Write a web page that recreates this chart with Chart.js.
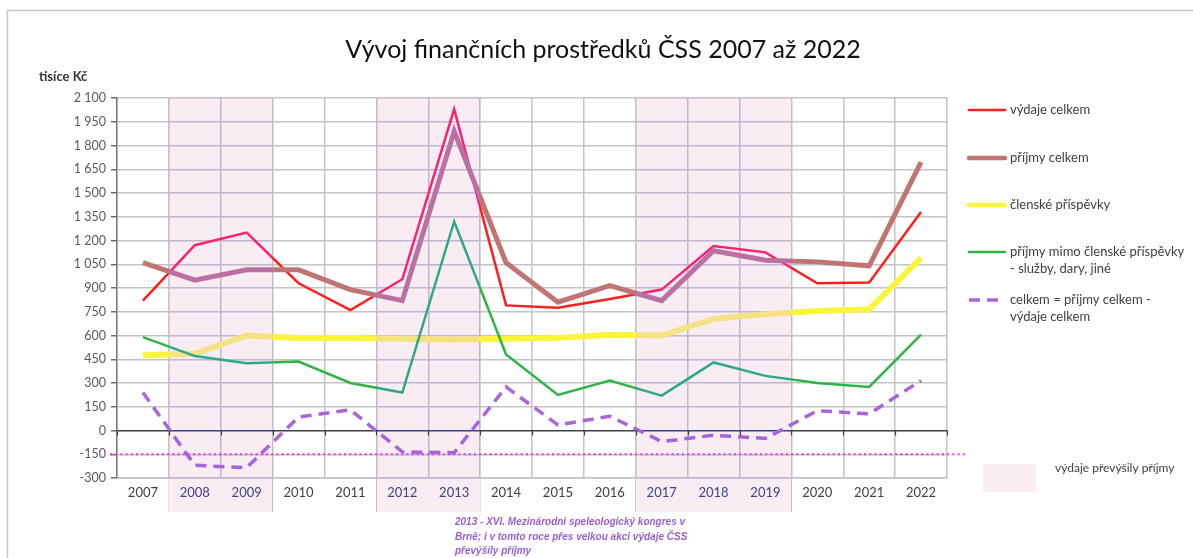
<!DOCTYPE html>
<html>
<head>
<meta charset="utf-8">
<script src="https://cdn.jsdelivr.net/npm/chart.js@4"></script>
<style>
  body { margin: 0; background: #fff; }
  #wrap { width: 1193px; height: 558px; }
</style>
</head>
<body>
<div id="wrap"><canvas id="chart" width="1193" height="558"></canvas></div>
<script>
// data (tisíce Kč)
const years = ['2007', '2008', '2009', '2010', '2011', '2012', '2013', '2014', '2015', '2016', '2017', '2018', '2019', '2020', '2021', '2022'];
const vydajeCelkem = [820, 1170, 1250, 930, 760, 955, 2030, 790, 775, 830, 890, 1165, 1125, 930, 935, 1380];
const prijmyCelkem = [1060, 950, 1015, 1015, 890, 820, 1890, 1060, 810, 915, 820, 1135, 1075, 1065, 1040, 1695];
const clenskePrispevky = [475, 485, 600, 585, 585, 580, 575, 580, 585, 605, 600, 705, 735, 755, 765, 1090];
const prijmyMimo = [590, 470, 425, 435, 300, 240, 1320, 480, 225, 315, 220, 430, 345, 300, 275, 605];
const celkemRozdil = [240, -220, -235, 85, 130, -135, -140, 275, 35, 90, -70, -30, -50, 125, 105, 315];
const limitLine = -150;

const labels = [
    ['výdaje celkem'],
    ['příjmy celkem'],
    ['členské příspěvky'],
    ['příjmy mimo členské příspěvky', '- služby, dary, jiné'],
    ['celkem = příjmy celkem -', 'výdaje celkem']
];

Chart.defaults.font.family = 'Lato, "Open Sans", sans-serif';

function fmt(v) {
    return String(v).replace(/\B(?=(\d{3})+(?!\d))/g, ' ');
}

// pinkish overlay like the patterned boxes in the original
function tint(ctx, x, y, w, h) {
    ctx.save();
    ctx.globalCompositeOperation = 'multiply';
    ctx.fillStyle = 'rgb(249,236,236)';
    ctx.fillRect(x, y, w, h);
    ctx.globalCompositeOperation = 'screen';
    ctx.fillStyle = 'rgb(0,8,95)';
    ctx.fillRect(x, y, w, h);
    ctx.restore();
}

const bandsPlugin = {
    id: 'bands',
    afterDatasetsDraw(chart) {
        const ctx = chart.ctx;
        const area = chart.chartArea;
        const x = chart.scales.x;
        const half = (x.getPixelForValue(1) - x.getPixelForValue(0)) / 2;
        let start = -1;
        for (let i = 0; i <= celkemRozdil.length; i++) {
            const neg = i < celkemRozdil.length && celkemRozdil[i] < 0;
            if (neg && start < 0) start = i;
            if (!neg && start >= 0) {
                const x0 = x.getPixelForValue(start) - half;
                const x1 = x.getPixelForValue(i - 1) + half;
                tint(ctx, x0, area.top, x1 - x0, area.bottom + 34 - area.top);
                start = -1;
            }
        }
    }
};

const extrasPlugin = {
    id: 'extras',
    afterDraw(chart) {
        const ctx = chart.ctx;
        const area = chart.chartArea;
        const x = chart.scales.x;
        const y = chart.scales.y;
        ctx.save();

        // frame
        ctx.strokeStyle = '#c4c4c4';
        ctx.lineWidth = 1.5;
        ctx.beginPath();
        ctx.moveTo(7.5, 558);
        ctx.lineTo(7.5, 10.5);
        ctx.lineTo(1193, 10.5);
        ctx.stroke();

        // title + unit
        ctx.fillStyle = '#111';
        ctx.font = '25px Lato';
        ctx.textAlign = 'center';
        ctx.textBaseline = 'middle';
        ctx.fillText('Vývoj finančních prostředků ČSS 2007 až 2022', 603, 50);
        ctx.fillStyle = '#333';
        ctx.font = 'bold 13px Lato';
        ctx.textAlign = 'left';
        ctx.fillText('tisíce Kč', 39, 77);

        // small ticks on zero line
        const half = (x.getPixelForValue(1) - x.getPixelForValue(0)) / 2;
        const zy = y.getPixelForValue(0);
        ctx.strokeStyle = '#404040';
        ctx.lineWidth = 1.2;
        ctx.beginPath();
        for (let i = 0; i <= years.length; i++) {
            const px = Math.round(x.getPixelForValue(0) - half + i * 2 * half) + 0.5;
            ctx.moveTo(px, zy);
            ctx.lineTo(px, zy + 5);
        }
        ctx.stroke();

        // dotted limit line
        const ly = y.getPixelForValue(limitLine);
        ctx.strokeStyle = '#ee30ee';
        ctx.lineWidth = 2;
        ctx.setLineDash([2, 3.2]);
        ctx.beginPath();
        ctx.moveTo(area.left - 7, ly);
        ctx.lineTo(area.right + 18, ly);
        ctx.stroke();
        ctx.setLineDash([]);

        // legend
        const rows = [110, 158, 205, 252, 300];
        ctx.font = '13px Lato';
        ctx.textBaseline = 'middle';
        chart.data.datasets.forEach((ds, i) => {
            const ry = rows[i];
            ctx.strokeStyle = ds.borderColor;
            ctx.lineWidth = Math.min(ds.borderWidth, 4.5);
            ctx.setLineDash(ds.borderDash || []);
            ctx.lineCap = ds.borderDash ? 'butt' : 'round';
            ctx.beginPath();
            ctx.moveTo(969, ry);
            ctx.lineTo(1005, ry);
            ctx.stroke();
            ctx.setLineDash([]);
            ctx.fillStyle = '#404040';
            labels[i].forEach((t, k) => ctx.fillText(t, 1010, ry + k * 17));
        });
        tint(ctx, 983, 464, 53, 28);
        ctx.fillStyle = '#404040';
        ctx.font = '12px Lato';
        ctx.fillText('výdaje převýšily příjmy', 1055, 468);

        // note under 2013
        ctx.fillStyle = '#9a5ed2';
        ctx.font = 'italic bold 10px "Liberation Sans"';
        ctx.fillText('2013 - XVI. Mezinárodni speleologický kongres v', 455, 522);
        ctx.fillText('Brně; i v tomto roce přes velkou akci výdaje ČSS', 455, 537);
        ctx.fillText('převýšily příjmy', 455, 551);
        ctx.restore();
    }
};

function line(label, data, color, width, order, dash) {
    return {
        label: label,
        data: data,
        borderColor: color,
        backgroundColor: color,
        borderWidth: width,
        borderDash: dash,
        pointRadius: 0,
        tension: 0,
        fill: false,
        order: order
    };
}

new Chart(document.getElementById('chart'), {
    type: 'line',
    data: {
        labels: years,
        datasets: [
            line('výdaje celkem', vydajeCelkem, '#ff1e1e', 2.5, 5),
            line('příjmy celkem', prijmyCelkem, '#c07474', 5, 4),
            line('členské příspěvky', clenskePrispevky, '#fbf43c', 6, 3),
            line('příjmy mimo členské příspěvky', prijmyMimo, '#2fb445', 2.5, 2),
            line('celkem', celkemRozdil, '#a866d8', 3.5, 1, [11, 7])
        ]
    },
    options: {
        responsive: false,
        animation: false,
        layout: { padding: { top: 98, right: 246, left: 0, bottom: 0 } },
        plugins: {
            legend: { display: false },
            title: { display: false },
            tooltip: { enabled: false }
        },
        scales: {
            x: {
                offset: true,
                afterFit: (s) => { s.height = 80; },
                grid: {
                    offset: true,
                    drawTicks: false,
                    color: '#c4c4c4',
                    lineWidth: 1.5
                },
                border: { color: '#c4c4c4', width: 1.5 },
                ticks: { color: '#404040', font: { size: 13 }, padding: 7 }
            },
            y: {
                min: -300,
                max: 2100,
                afterFit: (s) => { s.width = 117; },
                grid: {
                    color: (c) => c.tick && c.tick.value === 0 ? '#404040' : '#c4c4c4',
                    lineWidth: 1.5,
                    tickLength: 6,
                    tickColor: '#6a6a6a'
                },
                border: { color: '#7a7a7a', width: 1.5 },
                ticks: {
                    stepSize: 150,
                    color: '#595959',
                    font: { size: 12.5 },
                    padding: 5,
                    callback: (v) => fmt(v)
                }
            }
        }
    },
    plugins: [bandsPlugin, extrasPlugin]
});
</script>
</body>
</html>
